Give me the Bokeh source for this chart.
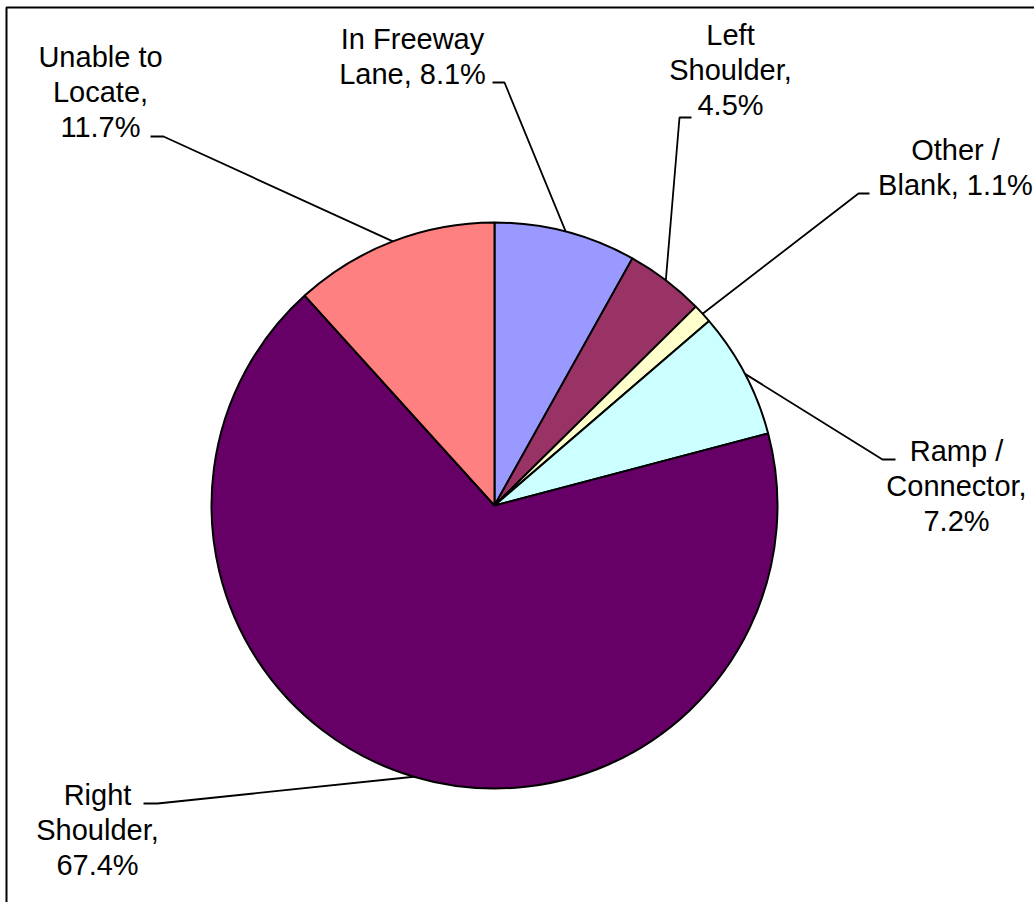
import math
from bokeh.plotting import figure
from bokeh.models import Range1d, ColumnDataSource
from bokeh.core.properties import value
from bokeh.embed import file_html
from bokeh.resources import INLINE

# ---------------- data ----------------
categories = ["In Freeway Lane", "Left Shoulder", "Other / Blank",
              "Ramp / Connector", "Right Shoulder", "Unable to Locate"]
shares = [8.1, 4.5, 1.1, 7.2, 67.4, 11.7]
colors = ["#9999FF", "#993366", "#FFFFCC", "#CCFFFF", "#660066", "#FF8080"]
label_lines = [
    ["In Freeway", "Lane, {p}"],
    ["Left", "Shoulder,", "{p}"],
    ["Other /", "Blank, {p}"],
    ["Ramp /", "Connector,", "{p}"],
    ["Right", "Shoulder,", "{p}"],
    ["Unable to", "Locate,", "{p}"],
]

# ---------------- layout (pixels, y measured from top) ----------------
W, H = 1034, 902
CX, CY, R = 494, 505, 283
LINE_STEP = 35
FONT_PX = "29px"
TEXT_SHIFT = -9
# label centre x, first baseline y, stub (outer x, inner x, y)
label_layout = [
    dict(cx=412, base=47, stub=(492, 504, 82)),
    dict(cx=730, base=43, stub=(691, 679, 117)),
    dict(cx=955, base=158, stub=(869, 858, 193)),
    dict(cx=956, base=459, stub=(895, 882, 459)),
    dict(cx=97, base=803, stub=(143, 157, 803)),
    dict(cx=100, base=65, stub=(150, 163, 136)),
]


def fy(py):
    return H - py


p = figure(width=W, height=H, x_range=Range1d(0, W), y_range=Range1d(0, H),
           output_backend="svg", toolbar_location=None, min_border=0,
           x_axis_type=None, y_axis_type=None)
p.grid.visible = False
p.outline_line_color = None
p.background_fill_color = "white"
p.border_fill_color = "white"

# wedges, starting at 12 o'clock, clockwise
total = sum(shares)
starts, ends, mids = [], [], []
cum = 0.0
for s in shares:
    a0 = math.pi / 2 - 2 * math.pi * cum / total
    cum += s
    a1 = math.pi / 2 - 2 * math.pi * cum / total
    starts.append(a0)
    ends.append(a1)
    mids.append((a0 + a1) / 2)

# leader lines
xs, ys = [], []
for m, lay in zip(mids, label_layout):
    ox, ix, sy = lay["stub"]
    px = CX + R * math.cos(m)
    py = CY - R * math.sin(m)
    xs.append([ox, ix, px])
    ys.append([fy(sy), fy(sy), fy(py)])
p.multi_line(xs, ys, line_color="black", line_width=1.8)

src = ColumnDataSource(dict(start=starts, end=ends, color=colors, name=categories))
p.wedge(x=CX, y=fy(CY), radius=R, start_angle="start", end_angle="end",
        direction="clock", fill_color="color", line_color="black",
        line_width=2, source=src)

# labels
tx, ty, tt = [], [], []
for s, lines, lay in zip(shares, label_lines, label_layout):
    pct = f"{s:.1f}%"
    for i, ln in enumerate(lines):
        tx.append(lay["cx"])
        ty.append(fy(lay["base"] + i * LINE_STEP + TEXT_SHIFT))
        tt.append(ln.format(p=pct))
p.text(x=tx, y=ty, text=tt, text_font=value("Liberation Sans"),
       text_font_size=FONT_PX, text_align="center",
       text_baseline="alphabetic", text_color="black")

# chart-area border (right/bottom edges fall outside the picture)
p.quad(left=6, right=W + 60, top=fy(7), bottom=-60,
       fill_alpha=0, line_color="black", line_width=2)

open("out.html", "w").write(file_html(p, INLINE))
